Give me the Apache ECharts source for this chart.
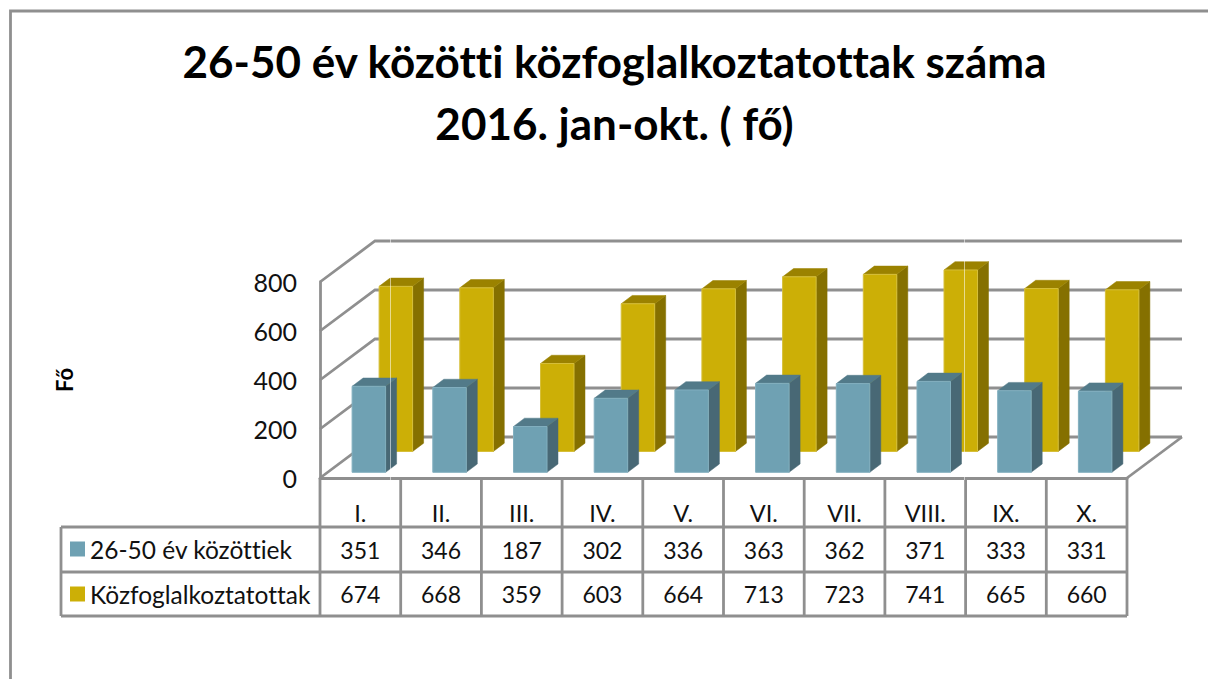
<!DOCTYPE html>
<html>
<head>
<meta charset="utf-8">
<style>html,body{margin:0;padding:0;background:#fff}#c{width:1208px;height:679px}
svg text{font-variant-ligatures:none}</style>
<script src="https://cdn.jsdelivr.net/npm/echarts@6/dist/echarts.min.js"></script>
</head>
<body>
<div id="c"></div>
<script>
const categories = ['I.','II.','III.','IV.','V.','VI.','VII.','VIII.','IX.','X.'];
const youngerName = '26-50 év közöttiek';
const totalName = 'Közfoglalkoztatottak';
const younger = [351,346,187,302,336,363,362,371,333,331];
const total = [674,668,359,603,664,713,723,741,665,660];
const yTicks = [0,200,400,600,800];
const titleText = '26-50 év közötti közfoglalkoztatottak száma\n2016. jan-okt. ( fő)';
const yAxisName = 'Fő';

const FONT = 'Lato, "Noto Sans", "Open Sans", sans-serif';
const LINE = '#8f8f8f';
const LW = 2.8;
const chart = echarts.init(document.getElementById('c'), null, {renderer:'svg'});

function barSeries(name, values, faces, shiftX, shiftY, z) {
  return {
    name, type:'custom', z, clip:false,
    itemStyle:{color:faces.front},
    encode:{x:0,y:1},
    data: values.map((v,i)=>[i,v]),
    renderItem(params, api) {
      const base = api.coord([api.value(0),0]);
      const top = api.coord([api.value(0),api.value(1)]);
      const w = 33.5, dx = 11, dy = 8.3;
      const l = base[0]+shiftX-w/2, r = l+w, b = base[1]+shiftY, t = top[1]+shiftY;
      const poly = (pts, fill) => ({type:'polygon', shape:{points:pts}, style:{fill, stroke:fill, lineWidth:0.5}});
      return {type:'group', children:[
        poly([[r,b],[r+dx,b-dy],[r+dx,t-dy],[r,t]], faces.side),
        poly([[l,t],[r,t],[r+dx,t-dy],[l+dx,t-dy]], faces.top),
        {type:'rect', shape:{x:l,y:t,width:r-l,height:b-t}, style:{fill:faces.front, stroke:faces.edge, lineWidth:1}}
      ]};
    }
  };
}

const wallSeries = {
  type:'custom', z:1, silent:true, clip:false, encode:{x:0,y:1},
  data: yTicks.map(v=>[0,v]),
  renderItem(params, api) {
    const cs = params.coordSys, y = api.coord([0,api.value(1)])[1];
    const dx = 55, dy = 41;
    const kids = [{type:'polyline', shape:{points:[[cs.x,y],[cs.x+dx,y-dy],[cs.x+cs.width+dx,y-dy]]},
      style:{fill:null, stroke:LINE, lineWidth:LW}}];
    if (api.value(1) === 0) kids.push({type:'polyline', shape:{points:[[cs.x+cs.width,y],[cs.x+cs.width+dx,y-dy]]},
      style:{fill:null, stroke:LINE, lineWidth:LW}});
    return {type:'group', children:kids};
  }
};

const row1 = 527, row2 = 572, row3 = 616, tableLeft = 61;
const tableSeries = {
  type:'custom', z:5, silent:true, clip:false, encode:{x:0},
  data: categories.map((c,i)=>[i, younger[i], total[i]]),
  renderItem(params, api) {
    const cs = params.coordSys, i = api.value(0), cx = api.coord([i,0])[0];
    const band = cs.width/categories.length, left = cs.x+i*band, right = left+band;
    const font = '23px '+FONT;
    const seg = pts => ({type:'polyline', shape:{points:pts}, style:{fill:null, stroke:LINE, lineWidth:LW}});
    const txt = (t,y)=>({type:'text', style:{text:String(t), x:cx, y, align:'center', verticalAlign:'middle', font, fill:'#111'}});
    const kids = [
      seg([[right,cs.y+cs.height],[right,row3]]),
      txt(api.value(1),550), txt(api.value(2),594)
    ];
    if (i===0) {
      [row1,row2,row3].forEach(y=>kids.push(seg([[tableLeft,y],[cs.x+cs.width,y]])));
      kids.push(seg([[left,cs.y+cs.height],[left,row3]]));
      kids.push(seg([[tableLeft,row1],[tableLeft,row3]]));
    }
    return {type:'group', children:kids};
  }
};

chart.setOption({
  animation:false,
  backgroundColor:'#fff',
  title:{text:titleText, left:609.5, top:25, textAlign:'center',
    textStyle:{fontFamily:FONT, fontWeight:'bold', fontSize:44, lineHeight:62, color:'#000'}},
  legend:{orient:'vertical', left:65, top:531.5, itemWidth:15, itemHeight:15, itemGap:20, icon:'rect',
    data:[youngerName,totalName], selectedMode:false,
    textStyle:{fontFamily:FONT, fontSize:24.5, lineHeight:24, color:'#111'}},
  grid:{left:320, top:282, width:807, height:196},
  xAxis:{type:'category', data:categories, boundaryGap:true,
    axisLine:{show:true, lineStyle:{color:LINE, width:LW}}, axisTick:{show:false},
    axisLabel:{margin:23, fontFamily:FONT, fontSize:23.5, color:'#111', interval:0}, splitLine:{show:false}},
  yAxis:{type:'value', min:0, max:800, interval:200, name:yAxisName, nameLocation:'middle', nameGap:245, nameRotate:90,
    nameTextStyle:{fontFamily:FONT, fontWeight:'bold', fontSize:22, color:'#000'},
    axisLine:{show:true, lineStyle:{color:LINE, width:LW}}, axisTick:{show:false},
    axisLabel:{margin:23, fontFamily:FONT, fontSize:25, color:'#111', padding:[6,0,0,0]}, splitLine:{show:false}},
  graphic:[
    {type:'polyline', z:100, shape:{points:[[1208,11],[10.5,11],[10.5,679]]}, style:{fill:null, stroke:'#8f8f8f', lineWidth:2.8}},
    {type:'line', z:100, shape:{x1:390.5,y1:236,x2:390.5,y2:480}, style:{stroke:'rgba(255,255,255,0.55)', lineWidth:1}},
    {type:'line', z:100, shape:{x1:964.5,y1:236,x2:964.5,y2:480}, style:{stroke:'rgba(255,255,255,0.55)', lineWidth:1}}
  ],
  series:[
    wallSeries,
    barSeries(totalName, total, {front:'#ccaf06', top:'#9b8200', side:'#857000', edge:'#d6bf3a'}, 35.5, -26.5, 3),
    barSeries(youngerName, younger, {front:'#6fa1b3', top:'#527a89', side:'#486875', edge:'#82afbf'}, 8.5, -5.7, 4),
    tableSeries
  ]
});
</script>
</body>
</html>
